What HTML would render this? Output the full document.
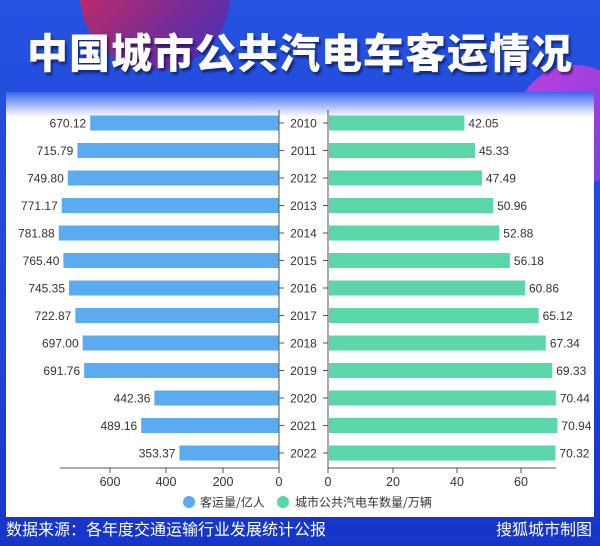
<!DOCTYPE html><html><head><meta charset="utf-8"><style>
body{margin:0;width:600px;height:546px;overflow:hidden;background:linear-gradient(180deg,#2552e0 0%,#1f45d8 60%,#1535c8 100%);font-family:"Liberation Sans","Noto Sans CJK SC",sans-serif;position:relative}
.c1{position:absolute;left:80px;top:-80px;width:150px;height:150px;border-radius:50%;background:linear-gradient(135deg,#e8284a,#3a2fc0)}
.c2{position:absolute;left:515px;top:65px;width:120px;height:120px;border-radius:50%;background:linear-gradient(135deg,#c040e0,#7040e0)}
.t{position:absolute;left:0;width:600px;top:20px;text-align:center;color:#fff;font-weight:900;font-size:41px;letter-spacing:1px;text-shadow:2px 3px 2px rgba(0,0,40,.5);font-family:"Noto Sans CJK SC",sans-serif}
.p{position:absolute;left:6px;top:92px;width:588px;height:425px;background:linear-gradient(180deg,#3b66ea 0,#fff 25px,#fff 100%)}
.f{position:absolute;top:516px;color:#fff;font-size:16px;font-family:"Noto Sans CJK SC",sans-serif}
</style></head><body>
<div class="c1"></div><div class="c2"></div>
<div class="t">中国城市公共汽电车客运情况</div>
<div class="p"></div>
<svg width="600" height="546" style="position:absolute;left:0;top:0" font-family="Liberation Sans, sans-serif" font-size="12" fill="#333">
<g id="g"></g>
<line x1="60" y1="468" x2="279" y2="468" stroke="#555"/>
<line x1="279" y1="110" x2="279" y2="473" stroke="#555"/>
<line x1="328" y1="110" x2="328" y2="473" stroke="#555"/>
<line x1="328" y1="468" x2="556" y2="468" stroke="#555"/>
<g text-anchor="middle" font-size="12.5">
<text x="110" y="486">600</text><text x="166" y="486">400</text><text x="223" y="486">200</text><text x="279" y="486">0</text>
<text x="328" y="486">0</text><text x="393" y="486">20</text><text x="457" y="486">40</text><text x="521" y="486">60</text>
</g>
<g stroke="#555"><line x1="110" y1="468" x2="110" y2="473"/><line x1="166" y1="468" x2="166" y2="473"/><line x1="223" y1="468" x2="223" y2="473"/><line x1="393" y1="468" x2="393" y2="473"/><line x1="457" y1="468" x2="457" y2="473"/><line x1="521" y1="468" x2="521" y2="473"/></g>
<circle cx="189" cy="502" r="6" fill="#5aabf0"/><text x="200" y="506.5" font-family="Noto Sans CJK SC, sans-serif" font-size="12">客运量/亿人</text>
<circle cx="283" cy="502" r="6" fill="#5ad6a8"/><text x="295" y="506.5" font-family="Noto Sans CJK SC, sans-serif" font-size="12">城市公共汽电车数量/万辆</text>
</svg>
<div class="f" style="left:6px">数据来源：各年度交通运输行业发展统计公报</div>
<div class="f" style="right:8px">搜狐城市制图</div>
<script>
var L=[670.12,715.79,749.80,771.17,781.88,765.40,745.35,722.87,697.00,691.76,442.36,489.16,353.37];
var R=[42.05,45.33,47.49,50.96,52.88,56.18,60.86,65.12,67.34,69.33,70.44,70.94,70.32];
var s='';
for(var i=0;i<13;i++){var y=123+i*27.5;var w=L[i]*0.2817;var r=R[i]*3.22;
s+='<rect x="'+(279-w)+'" y="'+(y-7.5)+'" width="'+w+'" height="15" fill="#5aabf0"/>';
s+='<text x="'+(275-w)+'" y="'+(y+4.5)+'" text-anchor="end">'+L[i].toFixed(2)+'</text>';
s+='<rect x="329" y="'+(y-7.5)+'" width="'+r+'" height="15" fill="#5ad6a8"/>';
s+='<text x="'+(333+r)+'" y="'+(y+4.5)+'">'+R[i].toFixed(2)+'</text>';
s+='<text x="303.5" y="'+(y+4.5)+'" text-anchor="middle">'+(2010+i)+'</text>';
s+='<line x1="279" y1="'+y+'" x2="284" y2="'+y+'" stroke="#555"/><line x1="323" y1="'+y+'" x2="328" y2="'+y+'" stroke="#555"/>';}
document.getElementById('g').innerHTML=s;
</script>
</body></html>
